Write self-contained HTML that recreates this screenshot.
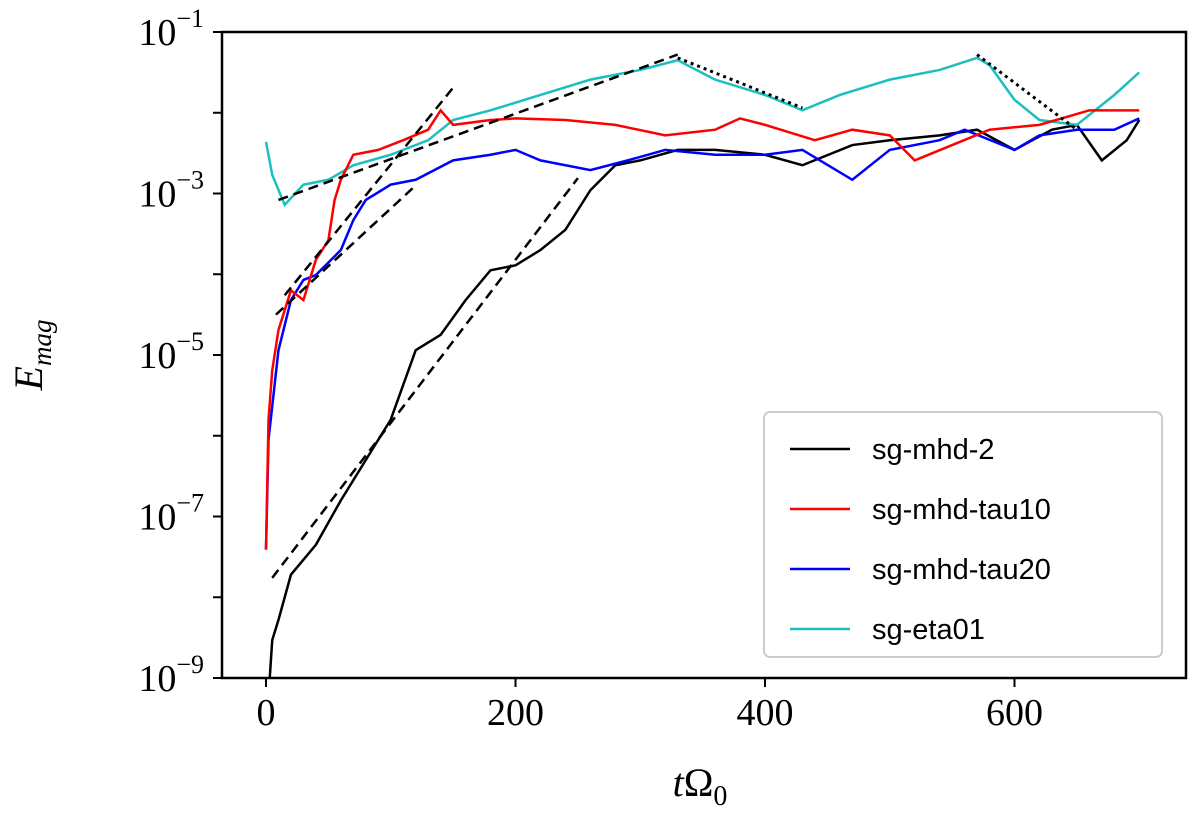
<!DOCTYPE html>
<html><head><meta charset="utf-8"><style>
body{margin:0;background:#fff}
svg text{font-family:"Liberation Serif","DejaVu Serif",serif}
</style></head><body>
<svg id="c" width="1200" height="818" xmlns="http://www.w3.org/2000/svg">
<g id="plot"></g>
<rect x="222" y="32" width="964" height="646" fill="none" stroke="#000" stroke-width="2.5"/>
<g id="ticks"></g>
<text x="42" y="355" font-size="40" font-style="italic" text-anchor="middle" transform="rotate(-90 42 355)">E<tspan font-size="27" dy="9">mag</tspan></text>
<text x="700" y="796" font-size="40" text-anchor="middle"><tspan font-style="italic">t</tspan>Ω<tspan font-size="28" dy="9">0</tspan></text>
<g>
<rect x="764" y="412" width="398" height="245" rx="6" fill="#fff" fill-opacity="0.85" stroke="#ccc" stroke-width="2"/>
<g id="leg"></g>
</g>
</svg>
<script>
const tBlack=[3,5,10,20,40,60,80,100,120,140,160,180,200,220,240,260,280,300,330,360,400,430,470,500,540,570,600,630,650,670,690,700];
const vBlack=[-9,-8.53,-8.28,-7.72,-7.35,-6.8,-6.3,-5.8,-4.94,-4.75,-4.32,-3.95,-3.89,-3.7,-3.45,-2.96,-2.65,-2.59,-2.46,-2.46,-2.52,-2.65,-2.4,-2.34,-2.28,-2.21,-2.46,-2.21,-2.15,-2.59,-2.34,-2.09];
const tRed=[0,2,5,10,20,30,40,50,55,60,70,90,110,130,140,150,180,200,240,280,320,360,380,400,440,470,500,520,550,580,620,660,700];
const vRed=[-7.41,-5.8,-5.19,-4.69,-4.2,-4.32,-3.82,-3.58,-3.08,-2.83,-2.52,-2.46,-2.34,-2.21,-1.97,-2.15,-2.09,-2.07,-2.09,-2.15,-2.28,-2.21,-2.07,-2.15,-2.34,-2.21,-2.28,-2.59,-2.4,-2.21,-2.15,-1.97,-1.97];
const tBlue=[0,2,10,20,30,40,60,70,80,100,120,150,180,200,220,260,290,320,360,400,430,470,500,540,560,600,620,650,680,700];
const vBlue=[-7.41,-6.05,-4.94,-4.32,-4.07,-4.01,-3.7,-3.33,-3.08,-2.89,-2.83,-2.59,-2.52,-2.46,-2.59,-2.71,-2.59,-2.46,-2.52,-2.52,-2.46,-2.83,-2.46,-2.34,-2.21,-2.46,-2.28,-2.21,-2.21,-2.07];
const tCyan=[0,5,15,30,50,70,100,130,150,180,220,260,300,330,360,400,430,460,500,540,570,580,600,620,650,680,700];
const vCyan=[-2.36,-2.77,-3.14,-2.89,-2.83,-2.65,-2.52,-2.34,-2.09,-1.97,-1.78,-1.59,-1.47,-1.35,-1.59,-1.78,-1.97,-1.78,-1.59,-1.47,-1.32,-1.41,-1.84,-2.09,-2.15,-1.78,-1.5];
const fits=[[10,-3.08,330,-1.28],[15,-4.26,150,-1.69],[8,-4.5,120,-2.9],[5,-7.76,250,-2.81]];
const dotted=[[330,-1.32,430,-1.94],[570,-1.28,650,-2.21]];
const xTicks=[0,200,400,600];
const yTicks=[-1,-3,-5,-7,-9];
const X=t=>266+t*1.2475, Y=v=>32+(-1-v)*80.75;
const NS="http://www.w3.org/2000/svg";
const plot=document.getElementById('plot'),tk=document.getElementById('ticks'),leg=document.getElementById('leg');
function mk(tag,a,p){const e=document.createElementNS(NS,tag);for(const k in a)e.setAttribute(k,a[k]);p.appendChild(e);return e;}
const series=[["sg-mhd-2","#000",tBlack,vBlack],["sg-mhd-tau10","#f00",tRed,vRed],["sg-mhd-tau20","#00f",tBlue,vBlue],["sg-eta01","#1bbfbf",tCyan,vCyan]];
const drawOrder=[0,3,2,1];
drawOrder.forEach(i=>{const s=series[i];
 const p=mk('path',{d:s[2].map((t,j)=>(j?'L':'M')+X(t)+' '+Y(s[3][j])).join(''),fill:'none',stroke:s[1],'stroke-width':2.5},plot);
 
 });
fits.forEach(f=>{const l=mk('line',{x1:X(f[0]),y1:Y(f[1]),x2:X(f[2]),y2:Y(f[3]),stroke:'#000','stroke-width':2.5,'stroke-dasharray':'10 6'},plot);
 
 });
dotted.forEach(f=>{const l=mk('line',{x1:X(f[0]),y1:Y(f[1]),x2:X(f[2]),y2:Y(f[3]),stroke:'#000','stroke-width':3,'stroke-dasharray':'3 4'},plot);
 
 });
xTicks.forEach(t=>{mk('line',{x1:X(t),x2:X(t),y1:678,y2:687,stroke:'#000','stroke-width':2},tk);
 const tx=mk('text',{x:X(t),y:725,'font-size':38,'text-anchor':'middle'},tk);tx.textContent=t;
 
 });
for(let d=-1;d>=-9;d--){mk('line',{x1:213,x2:222,y1:Y(d),y2:Y(d),stroke:'#000','stroke-width':2},tk);}
yTicks.forEach(d=>{const tx=mk('text',{x:204,y:Y(d)+13,'font-size':38,'text-anchor':'end'},tk);
 tx.innerHTML='10<tspan font-size="26" dy="-18">−'+(-d)+'</tspan>';
 
 });
series.forEach((s,i)=>{const y=449+i*60;
 mk('line',{x1:790,x2:850,y1:y,y2:y,stroke:s[1],'stroke-width':2.5},leg);
 const tx=mk('text',{x:872,y:y+10,'font-size':29,style:'font-family:"Liberation Sans","DejaVu Sans",sans-serif'},leg);tx.textContent=s[0];
 
 });
</script>
</body></html>
